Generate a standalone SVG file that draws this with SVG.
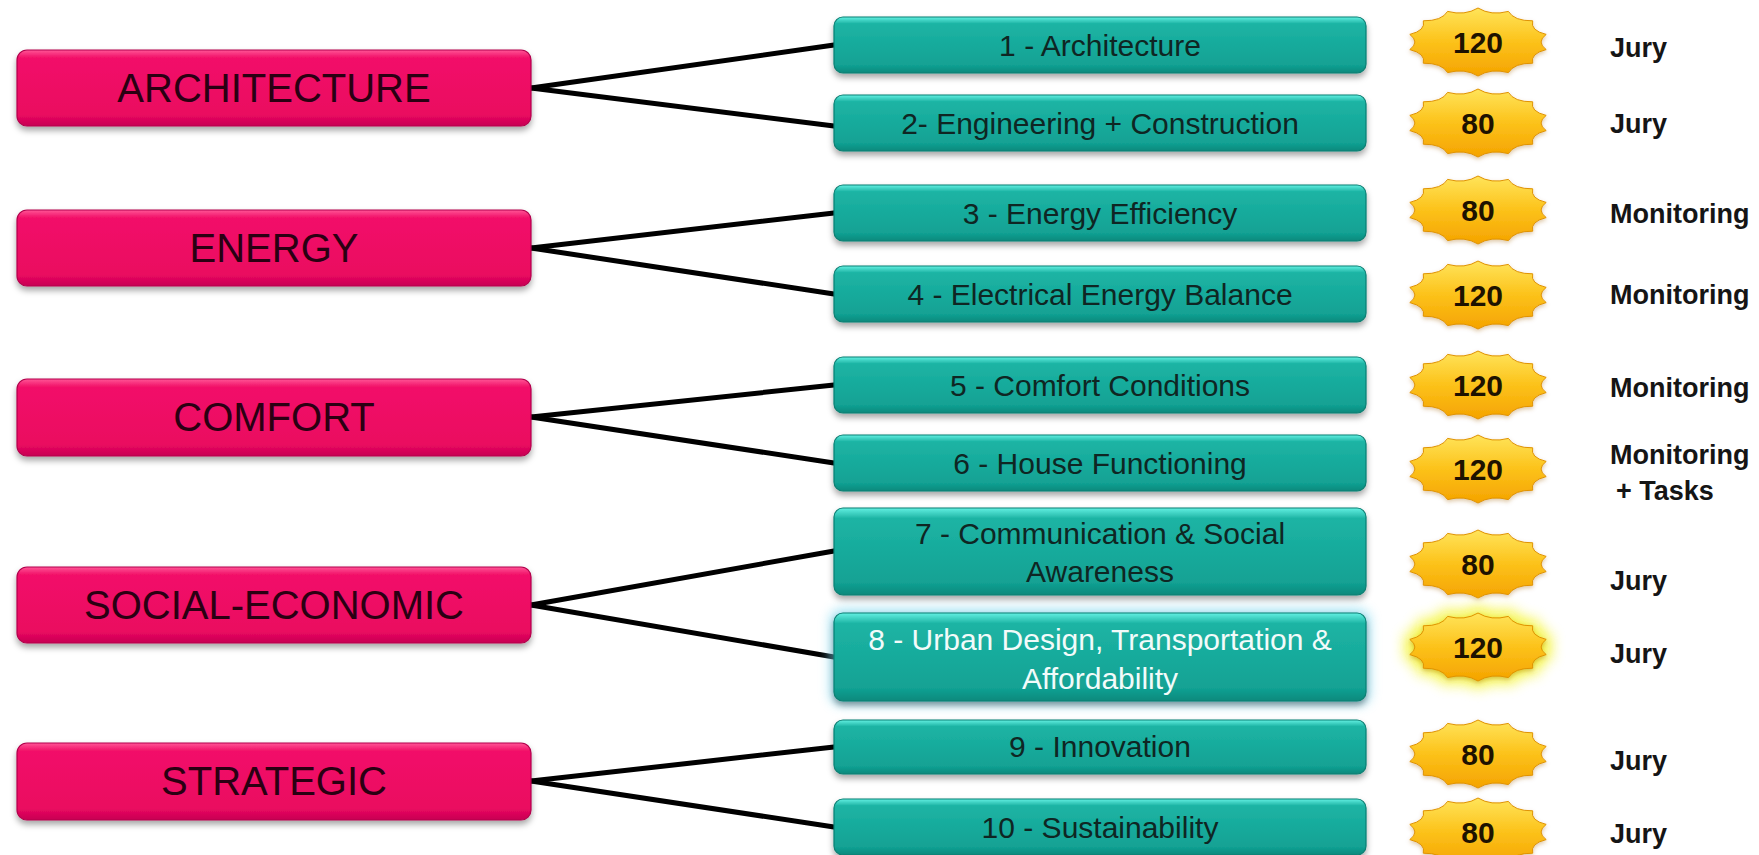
<svg xmlns="http://www.w3.org/2000/svg" width="1759" height="855" viewBox="0 0 1759 855">
<style>
  .pk{fill:url(#gPink);stroke:#b3004c;stroke-width:1.2;filter:url(#shadow)}
  .tl{fill:url(#gTeal);stroke:#0b7f73;stroke-width:1.2;filter:url(#shadow)}
  .pt{font-family:"Liberation Sans",Arial,sans-serif;font-size:40px;fill:#2a0012;text-anchor:middle}
  .tt{font-family:"Liberation Sans",Arial,sans-serif;font-size:30px;fill:#0f2623;text-anchor:middle}
  .tw{fill:#f2fbfa}
  .bd{fill:url(#gBadge);stroke:#e09200;stroke-width:1;filter:url(#shadowS)}
  .bt{font-family:"Liberation Sans",Arial,sans-serif;font-size:30px;font-weight:bold;fill:#1e1200;text-anchor:middle}
  .lb{font-family:"Liberation Sans",Arial,sans-serif;font-size:27px;font-weight:bold;fill:#151515}
  .cn{stroke:#000;stroke-width:5;fill:none;stroke-linecap:round}
</style>
<defs>
  <linearGradient id="gPink" x1="0" y1="0" x2="0" y2="1">
    <stop offset="0" stop-color="#ff5596"/>
    <stop offset="0.1" stop-color="#f21169"/>
    <stop offset="0.85" stop-color="#ea0960"/>
    <stop offset="1" stop-color="#c70053"/>
  </linearGradient>
  <linearGradient id="gTeal" x1="0" y1="0" x2="0" y2="1">
    <stop offset="0" stop-color="#62f0e2"/>
    <stop offset="0.12" stop-color="#1db4a4"/>
    <stop offset="0.85" stop-color="#12a294"/>
    <stop offset="1" stop-color="#0c897c"/>
  </linearGradient>
  <linearGradient id="gBadge" x1="0" y1="0" x2="0" y2="1">
    <stop offset="0" stop-color="#ffe45a"/>
    <stop offset="0.5" stop-color="#fcc21a"/>
    <stop offset="1" stop-color="#f5a300"/>
  </linearGradient>
  <filter id="shadow" x="-5%" y="-20%" width="110%" height="150%">
    <feDropShadow dx="0" dy="4" stdDeviation="3" flood-color="#000" flood-opacity="0.35"/>
  </filter>
  <filter id="shadowS" x="-10%" y="-20%" width="120%" height="150%">
    <feDropShadow dx="0" dy="2" stdDeviation="2" flood-color="#a06000" flood-opacity="0.35"/>
  </filter>
  <filter id="glowY" x="-30%" y="-50%" width="160%" height="200%">
    <feGaussianBlur stdDeviation="6"/>
  </filter>
  <filter id="glowB" x="-10%" y="-20%" width="120%" height="140%">
    <feGaussianBlur stdDeviation="6"/>
  </filter>
  <path id="star" d="M0,-34 Q-13,-26 -30.4,-30.6 Q-36,-21 -54.7,-21.2 Q-52,-11.5 -68.2,-7.6 Q-58,0 -68.2,7.6 Q-52,11.5 -54.7,21.2 Q-36,21 -30.4,30.6 Q-13,26 0,34 Q13,26 30.4,30.6 Q36,21 54.7,21.2 Q52,11.5 68.2,7.6 Q58,0 68.2,-7.6 Q52,-11.5 54.7,-21.2 Q36,-21 30.4,-30.6 Q13,-26 0,-34 Z"/>
</defs>
<rect width="1759" height="855" fill="#fff"/>

<g id="connectors">
  <line class="cn" x1="531" y1="88" x2="834" y2="45"/>
  <line class="cn" x1="531" y1="88" x2="834" y2="126"/>
  <line class="cn" x1="531" y1="248" x2="834" y2="213"/>
  <line class="cn" x1="531" y1="248" x2="834" y2="294"/>
  <line class="cn" x1="531" y1="417" x2="834" y2="385"/>
  <line class="cn" x1="531" y1="417" x2="834" y2="463"/>
  <line class="cn" x1="531" y1="605" x2="834" y2="551"/>
  <line class="cn" x1="531" y1="605" x2="834" y2="657"/>
  <line class="cn" x1="531" y1="781" x2="834" y2="747"/>
  <line class="cn" x1="531" y1="781" x2="834" y2="827"/>
</g>

<g id="cat-architecture"><rect class="pk" x="17" y="50" width="514" height="76" rx="10"/><text class="pt" x="274" y="102">ARCHITECTURE</text></g>
<g id="cat-energy"><rect class="pk" x="17" y="210" width="514" height="76" rx="10"/><text class="pt" x="274" y="262">ENERGY</text></g>
<g id="cat-comfort"><rect class="pk" x="17" y="379" width="514" height="77" rx="10"/><text class="pt" x="274" y="431">COMFORT</text></g>
<g id="cat-social"><rect class="pk" x="17" y="567" width="514" height="76" rx="10"/><text class="pt" x="274" y="619">SOCIAL-ECONOMIC</text></g>
<g id="cat-strategic"><rect class="pk" x="17" y="743" width="514" height="77" rx="10"/><text class="pt" x="274" y="795">STRATEGIC</text></g>

<g id="c1"><rect class="tl" x="834" y="17" width="532" height="56" rx="9"/><text class="tt" x="1100" y="56">1 - Architecture</text></g>
<g id="c2"><rect class="tl" x="834" y="95" width="532" height="56" rx="9"/><text class="tt" x="1100" y="134">2- Engineering + Construction</text></g>
<g id="c3"><rect class="tl" x="834" y="185" width="532" height="56" rx="9"/><text class="tt" x="1100" y="224">3 - Energy Efficiency</text></g>
<g id="c4"><rect class="tl" x="834" y="266" width="532" height="56" rx="9"/><text class="tt" x="1100" y="305">4 - Electrical Energy Balance</text></g>
<g id="c5"><rect class="tl" x="834" y="357" width="532" height="56" rx="9"/><text class="tt" x="1100" y="396">5 - Comfort Conditions</text></g>
<g id="c6"><rect class="tl" x="834" y="435" width="532" height="56" rx="9"/><text class="tt" x="1100" y="474">6 - House Functioning</text></g>
<g id="c7"><rect class="tl" x="834" y="508" width="532" height="87" rx="9"/><text class="tt" x="1100" y="544">7 - Communication &amp; Social</text><text class="tt" x="1100" y="582">Awareness</text></g>
<g id="c8"><rect x="830" y="609" width="540" height="96" rx="12" fill="#7fd8f0" opacity="0.7" filter="url(#glowB)"/><rect class="tl" x="834" y="613" width="532" height="88" rx="9"/><text class="tt tw" x="1100" y="650">8 - Urban Design, Transportation &amp;</text><text class="tt tw" x="1100" y="689">Affordability</text></g>
<g id="c9"><rect class="tl" x="834" y="720" width="532" height="54" rx="9"/><text class="tt" x="1100" y="757">9 - Innovation</text></g>
<g id="c10"><rect class="tl" x="834" y="799" width="532" height="56" rx="9"/><text class="tt" x="1100" y="838">10 - Sustainability</text></g>

<g id="b1"><use href="#star" class="bd" transform="translate(1478,42)"/><text class="bt" x="1478" y="53">120</text></g>
<g id="b2"><use href="#star" class="bd" transform="translate(1478,123)"/><text class="bt" x="1478" y="134">80</text></g>
<g id="b3"><use href="#star" class="bd" transform="translate(1478,210)"/><text class="bt" x="1478" y="221">80</text></g>
<g id="b4"><use href="#star" class="bd" transform="translate(1478,295)"/><text class="bt" x="1478" y="306">120</text></g>
<g id="b5"><use href="#star" class="bd" transform="translate(1478,385)"/><text class="bt" x="1478" y="396">120</text></g>
<g id="b6"><use href="#star" class="bd" transform="translate(1478,469)"/><text class="bt" x="1478" y="480">120</text></g>
<g id="b7"><use href="#star" class="bd" transform="translate(1478,564)"/><text class="bt" x="1478" y="575">80</text></g>
<g id="b8"><use href="#star" fill="#f2f20a" opacity="0.85" filter="url(#glowY)" transform="translate(1478,647) scale(1.12,1.2)"/><use href="#star" class="bd" transform="translate(1478,647)"/><text class="bt" x="1478" y="658">120</text></g>
<g id="b9"><use href="#star" class="bd" transform="translate(1478,754)"/><text class="bt" x="1478" y="765">80</text></g>
<g id="b10"><use href="#star" class="bd" transform="translate(1478,832)"/><text class="bt" x="1478" y="843">80</text></g>

<g id="labels">
  <text class="lb" x="1610" y="57">Jury</text>
  <text class="lb" x="1610" y="133">Jury</text>
  <text class="lb" x="1610" y="223">Monitoring</text>
  <text class="lb" x="1610" y="304">Monitoring</text>
  <text class="lb" x="1610" y="397">Monitoring</text>
  <text class="lb" x="1610" y="464">Monitoring</text>
  <text class="lb" x="1616" y="500">+ Tasks</text>
  <text class="lb" x="1610" y="590">Jury</text>
  <text class="lb" x="1610" y="663">Jury</text>
  <text class="lb" x="1610" y="770">Jury</text>
  <text class="lb" x="1610" y="843">Jury</text>
</g>
</svg>
